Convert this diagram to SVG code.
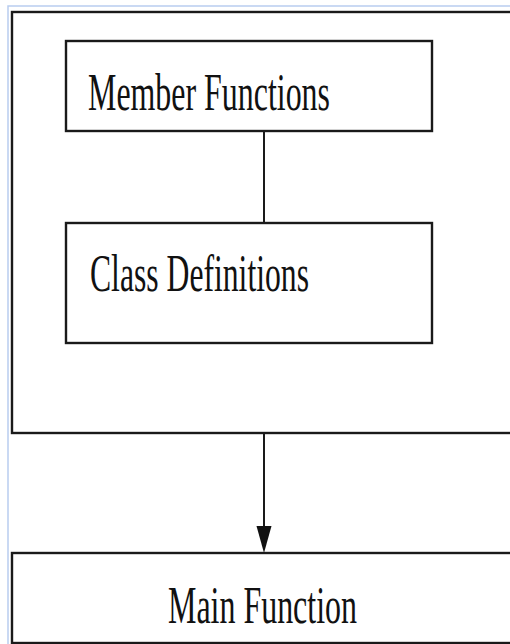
<svg xmlns="http://www.w3.org/2000/svg" width="510" height="644" viewBox="0 0 510 644">
  <style>
    .box { fill: #ffffff; stroke: #1a1a1a; stroke-width: 2.4; }
    .frame { fill: none; stroke: #b9cdef; stroke-width: 1.5; }
    .label { font-family: "Liberation Serif", "Times New Roman", serif; font-size: 52px; fill: #111111; }
    .wire { stroke: #1a1a1a; stroke-width: 2; fill: none; }
    .head { fill: #111111; }
  </style>
  <rect width="510" height="644" fill="#ffffff"/>
  <!-- window edge -->
  <path class="frame" d="M8,644 L8,6 L510,6"/>

  <g id="program">
    <rect class="box" x="12" y="12" width="510" height="421"/>
  </g>
  <g id="member-functions">
    <rect class="box" x="66" y="41" width="366" height="90"/>
    <text class="label" x="88" y="110" textLength="242" lengthAdjust="spacingAndGlyphs">Member Functions</text>
  </g>
  <g id="class-definitions">
    <rect class="box" x="66" y="223" width="366" height="120"/>
    <text class="label" x="90" y="291" textLength="219" lengthAdjust="spacingAndGlyphs">Class Definitions</text>
  </g>
  <g id="main-function">
    <rect class="box" x="12" y="553" width="510" height="90"/>
    <text class="label" x="168" y="623" textLength="189" lengthAdjust="spacingAndGlyphs">Main Function</text>
  </g>

  <g id="connectors">
    <line class="wire" x1="264" y1="131" x2="264" y2="223"/>
    <line class="wire" x1="264" y1="433" x2="264" y2="530"/>
    <path class="head" d="M256.5,526 L271.5,526 L264,553 Z"/>
  </g>
</svg>
